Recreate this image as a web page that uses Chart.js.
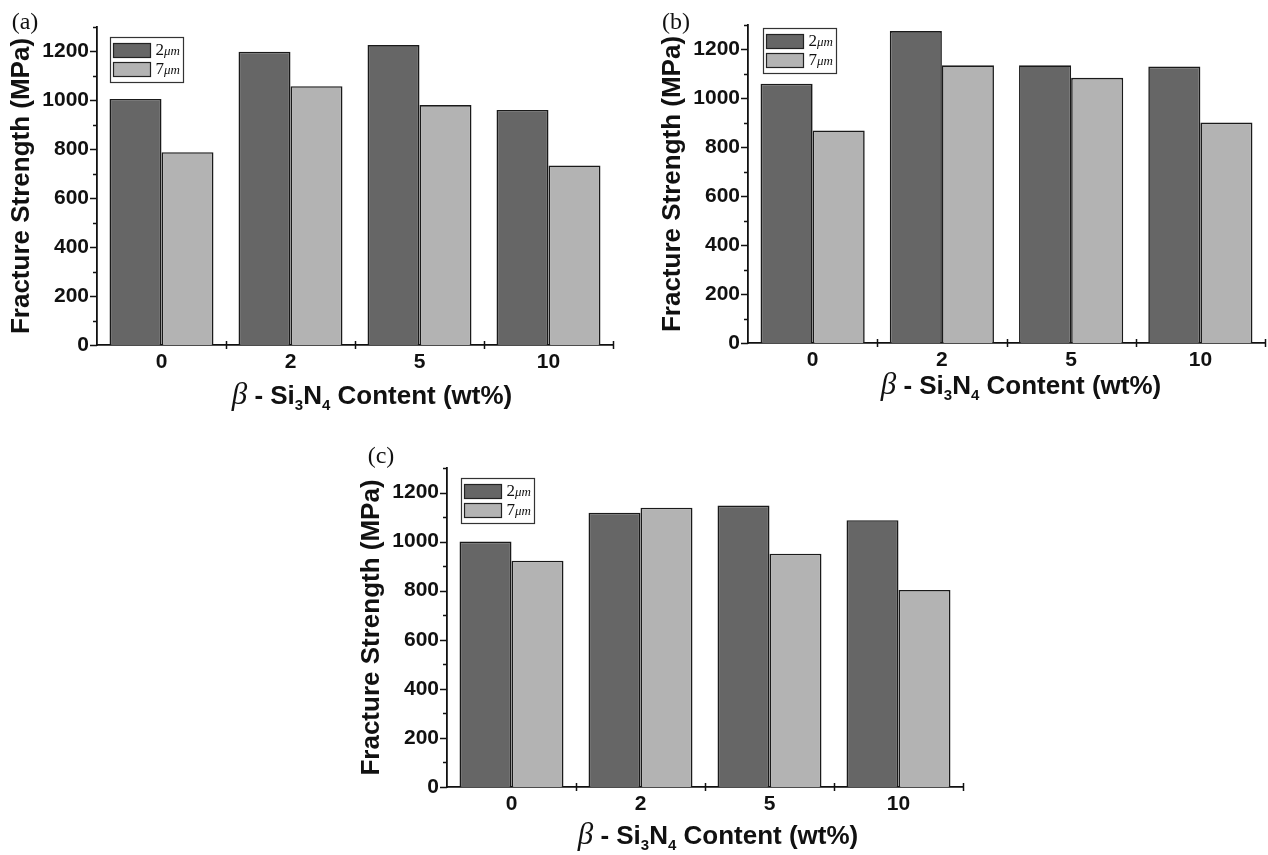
<!DOCTYPE html>
<html>
<head>
<meta charset="utf-8">
<script src="https://cdn.jsdelivr.net/npm/chart.js@4.4.1/dist/chart.umd.min.js"></script>
<style>
  body { margin: 0; background: #fff; }
  #page { position: relative; width: 1268px; height: 855px; overflow: hidden; background: #fff; }
  canvas { position: absolute; }
  .panel { position: absolute; font-family: "Liberation Serif", "Times New Roman", serif; font-size: 24px; color: #111; transform: translate(-50%, -50%); }
  .xt { position: absolute; transform: translate(-50%, -50%); white-space: nowrap;
        font-family: "Liberation Sans", Arial, sans-serif; font-weight: bold; font-size: 26px; color: #111; }
  .xt i { font-family: "Liberation Serif", "Times New Roman", serif; font-weight: normal; font-size: 31px; }
  .xt sub { font-size: 15px; line-height: 0; vertical-align: -6px; }
</style>
</head>
<body>
<div id="page">
  <canvas id="chart-a" width="640" height="380" style="left:0px;top:0px"></canvas>
  <canvas id="chart-b" width="617" height="378" style="left:651px;top:0px"></canvas>
  <canvas id="chart-c" width="640" height="381" style="left:350px;top:441px"></canvas>

  <div class="panel" style="left:25px;top:21px">(a)</div>
  <div class="panel" style="left:676px;top:21px">(b)</div>
  <div class="panel" style="left:381px;top:455px">(c)</div>

  <div class="xt" style="left:372px;top:394px"><i>β</i> - Si<sub>3</sub>N<sub>4</sub> Content (wt%)</div>
  <div class="xt" style="left:1021px;top:384px"><i>β</i> - Si<sub>3</sub>N<sub>4</sub> Content (wt%)</div>
  <div class="xt" style="left:718px;top:834px"><i>β</i> - Si<sub>3</sub>N<sub>4</sub> Content (wt%)</div>
</div>

<script>
// data
const contents = ['0', '2', '5', '10'];
const sizeLabels = ['2μm', '7μm'];
const yTicks = [0, 200, 400, 600, 800, 1000, 1200];
const yMax = 1300;

const strengthA2 = [1006, 1199, 1226, 961];
const strengthA7 = [788, 1058, 981, 734];
const strengthB2 = [1060, 1275, 1135, 1130];
const strengthB7 = [869, 1135, 1084, 901];
const strengthC2 = [1000, 1118, 1147, 1087];
const strengthC7 = [922, 1138, 951, 803];

const darkGrey = '#666666';
const lightGrey = '#b3b3b3';
const ink = '#111111';

Chart.defaults.font.family = "'Liberation Sans', Arial, sans-serif";
Chart.defaults.color = ink;

// tick marks like the original plot: minor ticks on y, crossing ticks between groups on x
const tickMarks = {
    id: 'tickMarks',
    afterDraw(chart) {
        const {ctx, chartArea: area, scales: {x, y}} = chart;
        ctx.save();
        ctx.strokeStyle = ink;
        ctx.lineWidth = 1.5;
        ctx.beginPath();
        for (let v = 0; v <= y.max; v += 100) {
            const py = Math.round(y.getPixelForValue(v)) + 0.5;
            const len = v % 200 === 0 ? 7 : 4;
            ctx.moveTo(area.left - len, py);
            ctx.lineTo(area.left, py);
        }
        for (let i = 1; i <= x.ticks.length; i++) {
            const px = Math.round(x.getPixelForValue(i - 0.5)) + 0.5;
            ctx.moveTo(px, area.bottom - 4);
            ctx.lineTo(px, area.bottom + 4);
        }
        ctx.stroke();
        ctx.restore();
    }
};

// small boxed legend sitting inside the plot area
const boxLegend = {
    id: 'boxLegend',
    afterDraw(chart, args, opts) {
        const {ctx, chartArea: area} = chart;
        const x0 = Math.round(area.left + opts.dx) + 0.5;
        const y0 = Math.round(area.top + opts.dy) + 0.5;
        ctx.save();
        ctx.fillStyle = '#fff';
        ctx.fillRect(x0, y0, 73, 45);
        ctx.strokeStyle = '#333';
        ctx.lineWidth = 1.2;
        ctx.strokeRect(x0, y0, 73, 45);
        chart.data.datasets.forEach((ds, i) => {
            const sy = y0 + 6 + i * 19;
            ctx.fillStyle = ds.backgroundColor;
            ctx.fillRect(x0 + 3, sy, 37, 14);
            ctx.strokeStyle = '#222';
            ctx.strokeRect(x0 + 3, sy, 37, 14);
            const num = ds.label.slice(0, 1);
            const unit = ds.label.slice(1);
            ctx.fillStyle = ink;
            ctx.textBaseline = 'middle';
            ctx.font = "17px 'Liberation Serif', 'Times New Roman', serif";
            ctx.fillText(num, x0 + 45, sy + 7);
            const w = ctx.measureText(num).width;
            ctx.font = "italic 13px 'Liberation Serif', 'Times New Roman', serif";
            ctx.fillText(unit, x0 + 45 + w, sy + 8);
        });
        ctx.restore();
    }
};

function makeChart(id, s2, s7, pad, legendDy, legendDx) {
    const data = {
        labels: contents,
        datasets: [{
            label: sizeLabels[0],
            data: s2,
            backgroundColor: darkGrey,
            borderColor: '#1a1a1a',
            borderWidth: 1.6,
            categoryPercentage: 0.806,
            barPercentage: 1.0
        }, {
            label: sizeLabels[1],
            data: s7,
            backgroundColor: lightGrey,
            borderColor: '#1a1a1a',
            borderWidth: 1.6,
            categoryPercentage: 0.806,
            barPercentage: 1.0
        }]
    };

    const config = {
        type: 'bar',
        data,
        options: {
            responsive: false,
            animation: false,
            layout: {
                padding: pad
            },
            scales: {
                x: {
                    grid: {
                        display: false,
                        drawTicks: false
                    },
                    border: {
                        display: true,
                        color: ink,
                        width: 1.8
                    },
                    ticks: {
                        font: {size: 21, weight: 'bold'},
                        color: ink,
                        padding: 5
                    },
                    afterFit: (s) => { s.height = 35; }
                },
                y: {
                    min: 0,
                    max: yMax,
                    afterBuildTicks: (s) => { s.ticks = yTicks.map(v => ({value: v})); },
                    grid: {
                        display: false,
                        drawTicks: false
                    },
                    border: {
                        display: true,
                        color: ink,
                        width: 1.8
                    },
                    ticks: {
                        font: {size: 21, weight: 'bold'},
                        color: ink,
                        padding: 8,
                        callback: (v) => String(v)
                    },
                    title: {
                        display: true,
                        text: 'Fracture Strength (MPa)',
                        font: {size: 26, weight: 'bold'},
                        color: ink,
                        padding: {top: 6, bottom: 0}
                    },
                    afterFit: (s) => { s.width = 97; }
                }
            },
            plugins: {
                legend: {display: false},
                tooltip: {enabled: false},
                boxLegend: {dx: legendDx, dy: legendDy}
            }
        },
        plugins: [tickMarks, boxLegend]
    };

    return new Chart(document.getElementById(id), config);
}

makeChart('chart-a', strengthA2, strengthA7, {top: 27, right: 27, bottom: 0, left: 0}, 10, 13);
makeChart('chart-b', strengthB2, strengthB7, {top: 25, right: 3, bottom: 0, left: 0}, 3, 15);
makeChart('chart-c', strengthC2, strengthC7, {top: 27, right: 27, bottom: 0, left: 0}, 10, 14);
</script>
</body>
</html>
